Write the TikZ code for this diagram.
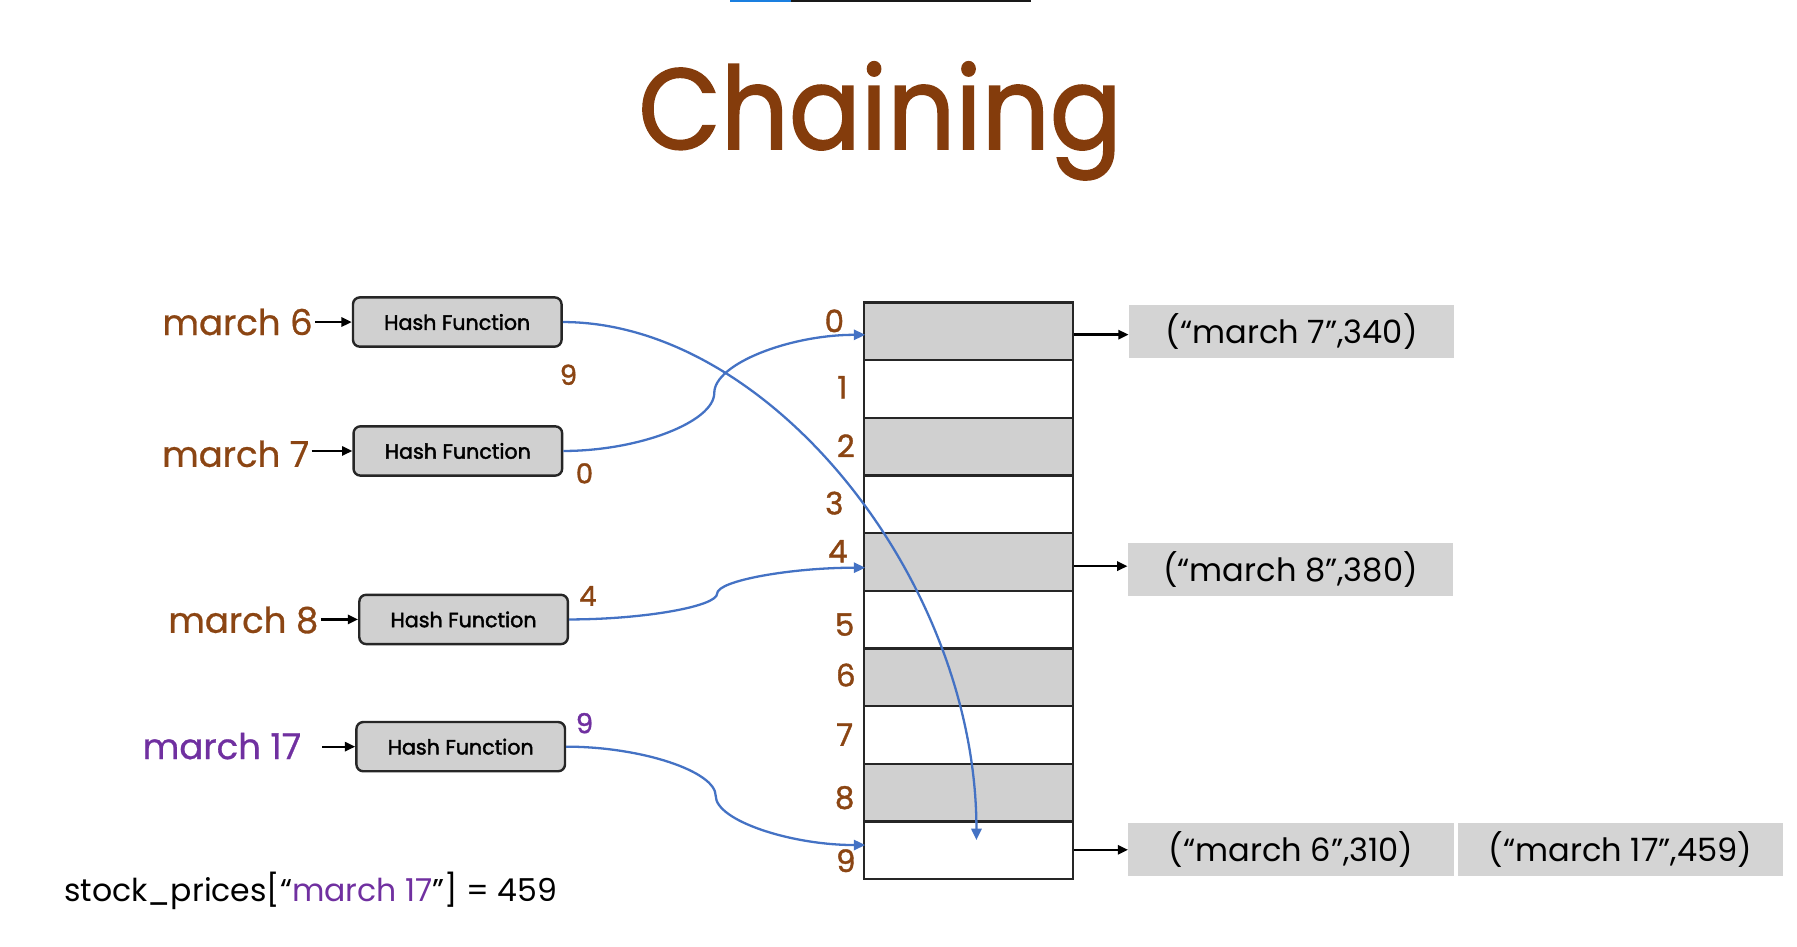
\documentclass[tikz,border=0pt]{standalone}
\usepackage{fontspec}
\setmainfont{Poppins}
\newfontfamily\hashfont[FakeBold=2]{Poppins}
\newfontfamily\digitfont[FakeBold=1.2]{Poppins}
\newfontfamily\keyfont[FakeBold=0.8]{Poppins}
\newfontfamily\titlefont[FakeBold=1.6]{Poppins}
\usetikzlibrary{arrows.meta,calc}
\definecolor{titlebrown}{HTML}{843C0C}
\definecolor{keybrown}{HTML}{8B4513}
\definecolor{keypurple}{HTML}{7030A0}
\definecolor{linkblue}{HTML}{4472C4}
\definecolor{cellgray}{HTML}{D0D0D0}
\definecolor{pairgray}{HTML}{D4D4D4}
\definecolor{barblue}{HTML}{1A7FE0}

\begin{document}
\begin{tikzpicture}[x=1pt,y=-1pt,
  key/.style={font=\keyfont\fontsize{31}{31}\selectfont, text=keybrown, inner sep=2pt, anchor=east},
  hashbox/.style={draw=black!85, line width=2.1pt, rounded corners=6pt, fill=cellgray,
    minimum width=182pt, minimum height=43pt, inner sep=0pt,
    font=\hashfont\fontsize{18}{18}\selectfont},
  cell/.style={draw=black!85, line width=2.1pt, minimum width=182pt, minimum height=50.3pt, inner sep=0pt},
  idx/.style={font=\digitfont\fontsize{27}{27}\selectfont, text=keybrown, inner sep=0pt},
  pair/.style={fill=pairgray, minimum width=284pt, minimum height=46pt, inner sep=0pt,
    font=\fontsize{28}{28}\selectfont},
  hashno/.style={font=\digitfont\fontsize{24}{24}\selectfont, text=keybrown, inner sep=0pt},
  feed/.style={-{Triangle[length=9pt,width=8pt]}, line width=2pt, black},
  link/.style={-{Triangle[length=10pt,width=9pt]}, line width=2pt, linkblue},
  % two-segment S-shaped connector, vertical tangent at its midpoint
  sconn/.style={to path={let \p1=(\tikztostart), \p2=(\tikztotarget) in
    .. controls ({(3*\x1+\x2)/4},\y1) and ({(\x1+\x2)/2},{(3*\y1+\y2)/4})
    .. ({(\x1+\x2)/2},{(\y1+\y2)/2})
    .. controls ({(\x1+\x2)/2},{(\y1+3*\y2)/4}) and ({(\x1+3*\x2)/4},\y2)
    .. (\p2)}},
  % single bend: leaves horizontally, arrives vertically
  lconn/.style={to path={let \p1=(\tikztostart), \p2=(\tikztotarget) in
    .. controls ({(\x1+\x2)/2},\y1) and (\x2,{(\y1+\y2)/2}) .. (\p2)}}
]
\useasboundingbox (0,0) rectangle (1568,826);

% progress strip along the top edge
\fill[barblue] (637,0) rectangle (690,2);
\fill[black!90] (690,0) rectangle (900,2);

% title
\node[font=\titlefont\fontsize{100}{100}\selectfont, text=titlebrown, anchor=base, inner sep=0pt, xscale=0.93] (title) at (768,130) {Chaining};

% keys
\node[key] (m6) at (275,281) {march 6};
\node[key] (m7) at (272,396) {march 7};
\node[key] (m8) at (280,541) {march 8};
\node[key, text=keypurple] (m17) at (265,651) {march 17};

% hash function boxes
\node[hashbox] (h1) at (399,281) {Hash Function};
\node[hashbox] (h2) at (399.5,393.5) {Hash Function};
\node[hashbox] (h3) at (404.5,540.5) {Hash Function};
\node[hashbox] (h4) at (402,651.5) {Hash Function};

\draw[feed] (m6.east |- h1.west) -- (h1.west);
\draw[feed] (m7.east |- h2.west) -- (h2.west);
\draw[feed] (m8.east |- h3.west) -- (h3.west);
\draw[feed, shorten <=16pt] (m17.east |- h4.west) -- (h4.west);

% hash results
\node[hashno] (n1) at (496,327) {9};
\node[hashno] (n2) at (510,413) {0};
\node[hashno] (n3) at (513,520) {4};
\node[hashno, text=keypurple] (n4) at (510,631) {9};

% bucket array
\foreach \i in {0,...,9}{
  \pgfmathsetmacro{\yc}{264+50.3*(\i+0.5)}
  \pgfmathtruncatemacro{\odd}{mod(\i,2)}
  \ifnum\odd=0
    \node[cell, fill=cellgray] (r\i) at (845,\yc) {};
  \else
    \node[cell, fill=white] (r\i) at (845,\yc) {};
  \fi
}

% bucket indices
\node[idx] (i0) at (728,280) {0};
\node[idx] (i1) at (735,338) {1};
\node[idx] (i2) at (738,389) {2};
\node[idx] (i3) at (728,439) {3};
\node[idx] (i4) at (731,481) {4};
\node[idx] (i5) at (737,545) {5};
\node[idx] (i6) at (738,589) {6};
\node[idx] (i7) at (737,641) {7};
\node[idx] (i8) at (737,696) {8};
\node[idx] (i9) at (738,751) {9};

% chained entries
\node[pair] (p0) at (1127,289) {(“march 7”,340)};
\node[pair] (p4) at (1126,497) {(“march 8”,380)};
\node[pair] (p9a) at (1126.5,741.5) {(“march 6”,310)};
\node[pair] (p9b) at (1414,741.5) {(“march 17”,459)};

\draw[feed] (r0.east |- 0,292) -- (p0.west |- 0,292);
\draw[feed] (r4.east |- 0,494) -- (p4.west |- 0,494);
\draw[feed] (r9.east |- p9a.west) -- (p9a.west);

% hash links into the array
\coordinate (t0) at ($(r0.west)+(2,3)$);
\coordinate (t4) at ($(r4.west)+(2,5)$);
\coordinate (t9a) at ($(r9.west)+(2,-4.5)$);
\coordinate (t9) at (852,733);
\draw[link] (h1.east) to[lconn] (t9);
\draw[link] (h2.east) to[sconn] (t0);
\draw[link] (h3.east) to[sconn] (t4);
\draw[link] (h4.east) to[sconn] (t9a);

% lookup
\node[font=\fontsize{27.5}{27.5}\selectfont, anchor=base west, inner sep=0pt] (lookup) at (56,787)
  {stock\_prices[“\textcolor{keypurple}{march 17}”] = 459};
\end{tikzpicture}
\end{document}
